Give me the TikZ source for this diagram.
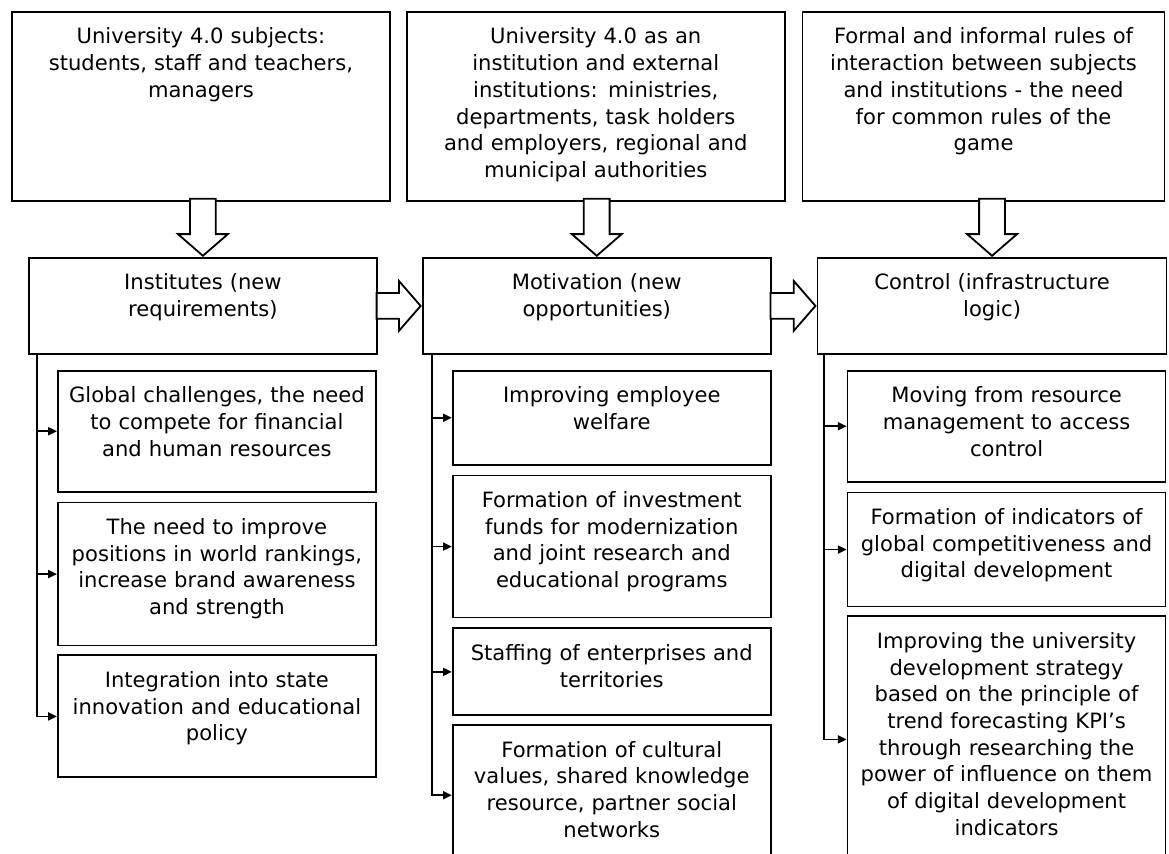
\documentclass[tikz,border=0pt]{standalone}
\usepackage{fontspec}
\setmainfont{DejaVu Sans}
\usetikzlibrary{arrows.meta,positioning,shapes.arrows}

\begin{document}
\begin{tikzpicture}[
  font=\fontsize{15pt}{19pt}\selectfont,
  cell/.style={draw,line width=1.3pt,inner sep=0pt,align=center,text height=8mm},
  topcell/.style={cell,text depth=39.25mm},
  headcell/.style={cell,text width=87mm,text depth=16mm},
  item/.style={cell,text width=79.5mm},
  fat/.style={single arrow,draw,line width=1.3pt,fill=white,inner xsep=0pt,inner ysep=3mm,
    single arrow head extend=3mm,single arrow tip angle=98},
  feed/.style={-{Triangle[length=2.2mm,width=2mm]},line width=1.2pt}
]
\useasboundingbox (0,0) rectangle (29.225,-21.35);
\clip (0,0) rectangle (29.225,-21.35);
\node[topcell,text width=94.5mm,anchor=north west] (subj) at (0.275,-0.275) {University 4.0 subjects:\\students, staff and teachers,\\managers};
\node[topcell,text width=94.5mm,right=3.75mm of subj] (inst) {University 4.0 as an\\institution and external\\institutions: ministries,\\departments, task holders\\and employers, regional and\\municipal authorities};
\node[topcell,text width=90.5mm,right=4mm of inst] (rules) {Formal and informal rules of\\interaction between subjects\\and institutions - the need\\for common rules of the\\game};
\node[headcell,anchor=north west] (insreq) at (0.7,-6.425) {Institutes (new\\requirements)};
\node[headcell,right=11mm of insreq] (motiv) {Motivation (new\\opportunities)};
\node[headcell,text width=87.25mm,right=11.25mm of motiv] (ctrl) {Control (infrastructure\\logic)};
\node[item,text depth=22.25mm,below right=3.75mm and 7.25mm of insreq.south west] (chal) {Global challenges, the need\\to compete for financial\\and human resources};
\node[item,text depth=27.75mm,below=2.25mm of chal] (rank) {The need to improve\\positions in world rankings,\\increase brand awareness\\and strength};
\node[item,text depth=22.5mm,below=2mm of rank] (integ) {Integration into state\\innovation and educational\\policy};
\node[item,text depth=15.5mm,below right=3.75mm and 7.5mm of motiv.south west] (welf) {Improving employee\\welfare};
\node[item,text depth=27.5mm,below=2.25mm of welf] (fund) {Formation of investment\\funds for modernization\\and joint research and\\educational programs};
\node[item,text depth=13.75mm,below=2.25mm of fund] (staff) {Staffing of enterprises and\\territories};
\node[item,text depth=27mm,below=2mm of staff] (cult) {Formation of cultural\\values, shared knowledge\\resource, partner social\\networks};
\node[item,text depth=19.75mm,below right=3.75mm and 7.5mm of ctrl.south west] (move) {Moving from resource\\management to access\\control};
\node[item,text depth=20.5mm,below=2.25mm of move] (indic) {Formation of indicators of\\global competitiveness and\\digital development};
\node[item,text depth=53.5mm,below=2mm of indic] (strat) {Improving the university\\development strategy\\based on the principle of\\trend forecasting KPI’s\\through researching the\\power of influence on them\\of digital development\\indicators};
\node[fat,rotate=-90,minimum height=14.25mm,anchor=tip] (d1) at (insreq.north) {};
\node[fat,rotate=-90,minimum height=14.25mm,anchor=tip] (d2) at (motiv.north) {};
\node[fat,rotate=-90,minimum height=14.25mm,anchor=tip] (d3) at (ctrl.north) {};
\node[fat,minimum height=11mm,anchor=tip] (r1) at (motiv.west) {};
\node[fat,minimum height=11.25mm,anchor=tip] (r2) at (ctrl.west) {};
\coordinate (bus1) at ([xshift=2.25mm]insreq.south west);
\coordinate (bus2) at ([xshift=2.5mm]motiv.south west);
\coordinate (bus3) at ([xshift=1.75mm]ctrl.south west);
\draw[feed] (bus1) |- (integ);
\draw[feed] (bus1 |- chal.west) -- (chal);
\draw[feed] (bus1 |- rank.west) -- (rank);
\draw[feed] (bus2) |- (cult);
\draw[feed] (bus2 |- welf.west) -- (welf);
\draw[feed] (bus2 |- fund.west) -- (fund);
\draw[feed] (bus2 |- staff.west) -- (staff);
\draw[feed] (bus3) |- (strat);
\draw[feed] (bus3 |- move.west) -- (move);
\draw[feed] (bus3 |- indic.west) -- (indic);
\end{tikzpicture}
\end{document}
